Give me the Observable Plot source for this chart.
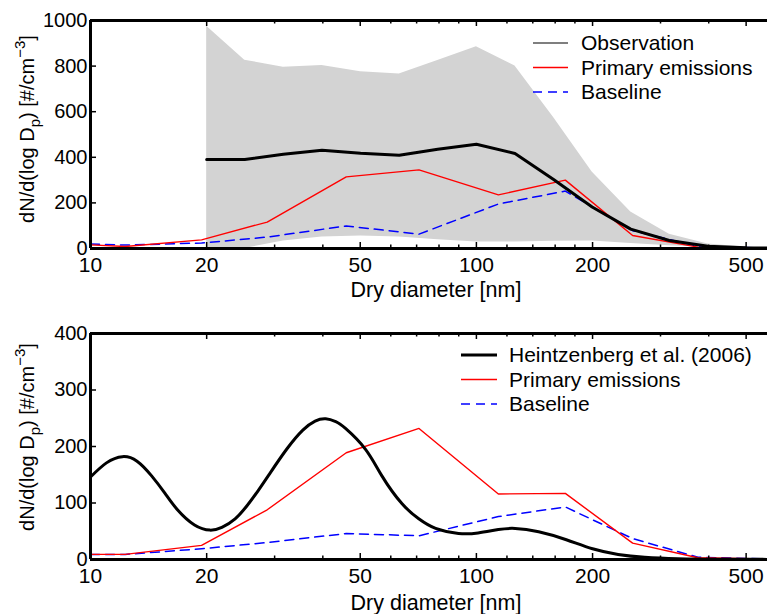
<!DOCTYPE html>
<html><head><meta charset="utf-8">
<script src="https://cdn.jsdelivr.net/npm/d3@7"></script>
<script src="https://cdn.jsdelivr.net/npm/@observablehq/plot@0.6"></script>
<style>
body{margin:0;background:#fff;}
#chart svg{display:block;}
</style></head><body><div id="chart"></div>
<script>
// ---- data ----
const obsDiameter = [20, 25.1, 31.6, 39.8, 50.1, 63.1, 79.4, 100, 125.9, 158.5, 199.5, 251.2, 316.2, 398.1, 501.2, 631];
const obsMean  = [390, 390, 413, 431, 418, 409, 435, 457, 417, 303, 182, 85, 35, 10, 3, 1];
const obsUpper = [975, 826, 795, 803, 775, 765, 825, 885, 800, 575, 335, 160, 62, 20, 5, 2];
const obsLower = [0, 0, 33, 50, 55, 50, 38, 28, 28, 32, 33, 22, 12, 5, 1.5, 0.5];

const modelDiameter = [10, 12.3, 19.4, 28.7, 46, 71, 114, 170, 254, 375, 570];
const topPrimary     = [16, 9, 38, 116, 314, 345, 235, 300, 57, 6, 1];
const topBaseline    = [20, 15, 24, 50, 99, 63, 195, 252, 78, 10, 2];
const bottomPrimary  = [9, 9, 25, 88, 189, 232, 116, 117, 29, 3, 1];
const bottomBaseline = [9, 9, 19, 30, 46, 42, 76, 93, 37, 4, 1];

const heintzDiameter = [10, 11, 12.1, 13.2, 14.4, 15.6, 16.8, 18.6, 20.4, 21.9, 23.7, 25.5, 27.2, 29.2, 32.3, 35.5, 38.2, 40.7, 43.2, 45.8, 51.6, 56.9, 64.1, 70.9, 78.4, 89.9, 101, 114, 126, 145, 171, 200, 233, 273, 332, 424, 570];
const heintzValue    = [146, 171, 182, 174, 148, 117, 88, 61, 52, 57, 72, 96, 122, 153, 196, 229, 245, 249, 244, 232, 195, 148, 99, 72, 55, 46, 47, 53, 55, 49, 35, 19, 9, 4, 1.5, 0.5, 0.2];

const xMajorTicks = [10, 20, 50, 100, 200, 500];
const xMinorTicks = [30, 40, 60, 70, 80, 90, 120, 140, 160, 180, 300, 400];
const topYTicks = [0, 200, 400, 600, 800, 1000];
const bottomYTicks = [0, 100, 200, 300, 400];
const xTitle = "Dry diameter [nm]";
const topLegend = ["Observation", "Primary emissions", "Baseline"];
const bottomLegend = ["Heintzenberg et al. (2006)", "Primary emissions", "Baseline"];

// ---- build tables ----
const obs = obsDiameter.map((d, i) => ({d, mean: obsMean[i], lo: obsLower[i], hi: obsUpper[i]}));
const mk = (vals) => modelDiameter.map((d, i) => ({d, v: vals[i]}));
const heintz = heintzDiameter.map((d, i) => ({d, v: heintzValue[i]}));

const FONT = "'Liberation Sans', Arial, Helvetica, sans-serif";
const W = 767, ML = 90, MR = 0;
const xDomain = [10, 568];

function frameMarks(yMax, yTicks, plotH, plotW) {
  return [
    Plot.tickX(xMajorTicks, {x: d => d, insetTop: plotH - 6, strokeWidth: 1.5}),
    Plot.tickX(xMajorTicks, {x: d => d, insetBottom: plotH - 6, strokeWidth: 1.5}),
    Plot.tickX(xMinorTicks, {x: d => d, insetTop: plotH - 3.5, strokeWidth: 1.5}),
    Plot.tickX(xMinorTicks, {x: d => d, insetBottom: plotH - 3.5, strokeWidth: 1.5}),
    Plot.tickY(yTicks, {y: d => d, insetRight: plotW - 6, strokeWidth: 1.5}),
    Plot.ruleY([0], {strokeWidth: 3}),
    Plot.ruleY([yMax], {strokeWidth: 3}),
    Plot.ruleX([xDomain[0]], {strokeWidth: 3}),
    Plot.axisX({ticks: xMajorTicks, tickFormat: d => String(d), tickSize: 0, tickPadding: 9, label: null, fontSize: 21}),
    Plot.axisY({ticks: yTicks, tickFormat: d => String(d), tickSize: 0, tickPadding: 3, label: null})
  ];
}

function panel({height, marginTop, marginBottom, yMax, yTicks, marks}) {
  const plotH = height - marginTop - marginBottom;
  const plotW = W - ML - MR;
  return Plot.plot({
    width: W, height, marginLeft: ML, marginRight: MR, marginTop, marginBottom,
    x: {type: "log", domain: xDomain},
    y: {domain: [0, yMax]},
    style: {fontFamily: FONT, fontSize: "20px", color: "black", background: "white", overflow: "visible"},
    marks: [...marks, ...frameMarks(yMax, yTicks, plotH, plotW)]
  });
}

const topPanel = panel({
  height: 300, marginTop: 20, marginBottom: 52, yMax: 1000, yTicks: topYTicks,
  marks: [
    Plot.areaY(obs, {x: "d", y1: "lo", y2: "hi", fill: "#d3d3d3", clip: true}),
    Plot.line(mk(topBaseline), {x: "d", y: "v", stroke: "#0000ff", strokeWidth: 1.5, strokeDasharray: "9,6", clip: true}),
    Plot.line(mk(topPrimary), {x: "d", y: "v", stroke: "#ff0000", strokeWidth: 1.4, clip: true}),
    Plot.line(obs, {x: "d", y: "mean", stroke: "black", strokeWidth: 3, clip: true})
  ]
});

const bottomPanel = panel({
  height: 314, marginTop: 33, marginBottom: 55, yMax: 400, yTicks: bottomYTicks,
  marks: [
    Plot.line(mk(bottomBaseline), {x: "d", y: "v", stroke: "#0000ff", strokeWidth: 1.5, strokeDasharray: "9,6", clip: true}),
    Plot.line(mk(bottomPrimary), {x: "d", y: "v", stroke: "#ff0000", strokeWidth: 1.4, clip: true}),
    Plot.line(heintz, {x: "d", y: "v", stroke: "black", strokeWidth: 3, curve: "natural", clip: true})
  ]
});

function decorate(svgNode, {xTitleY, yTitleCenter, legendX, legendTextX, legendY, legendLabels, firstWidth}) {
  const svg = d3.select(svgNode);
  svg.append("text")
    .attr("x", 436).attr("y", xTitleY)
    .attr("text-anchor", "middle").attr("font-family", FONT).attr("font-size", 21.5).attr("fill", "black")
    .text(xTitle);
  const yt = svg.append("text")
    .attr("transform", `translate(34,${yTitleCenter}) rotate(-90)`)
    .attr("text-anchor", "middle").attr("font-family", FONT).attr("font-size", 20).attr("fill", "black");
  yt.append("tspan").text("dN/d(log D");
  yt.append("tspan").attr("font-size", 15).attr("dy", 6).text("p");
  yt.append("tspan").attr("dy", -6).text(") [#/cm");
  yt.append("tspan").attr("font-size", 15).attr("dy", -9).text("\u22123");
  yt.append("tspan").attr("dy", 9).text("]");
  const styles = [
    {stroke: "black", w: firstWidth, dash: null},
    {stroke: "#ff0000", w: 1.4, dash: null},
    {stroke: "#0000ff", w: 1.5, dash: "9,6"}
  ];
  legendLabels.forEach((lab, i) => {
    const y = legendY + i * 24.5;
    const s = styles[i];
    const ln = svg.append("line").attr("x1", legendX[0]).attr("x2", legendX[1]).attr("y1", y).attr("y2", y)
      .attr("stroke", s.stroke).attr("stroke-width", s.w);
    if (s.dash) ln.attr("stroke-dasharray", s.dash);
    svg.append("text").attr("x", legendTextX).attr("y", y).attr("dy", "0.35em")
      .attr("text-anchor", "start")
      .attr("font-family", FONT).attr("font-size", 21).attr("fill", "black").text(lab);
  });
}

decorate(topPanel, {xTitleY: 297, yTitleCenter: 129, legendX: [533, 568], legendTextX: 581, legendY: 43, legendLabels: topLegend, firstWidth: 1.2});
decorate(bottomPanel, {xTitleY: 310, yTitleCenter: 137, legendX: [461, 497], legendTextX: 509, legendY: 55, legendLabels: bottomLegend, firstWidth: 3});

document.getElementById("chart").append(topPanel, bottomPanel);
</script></body></html>
